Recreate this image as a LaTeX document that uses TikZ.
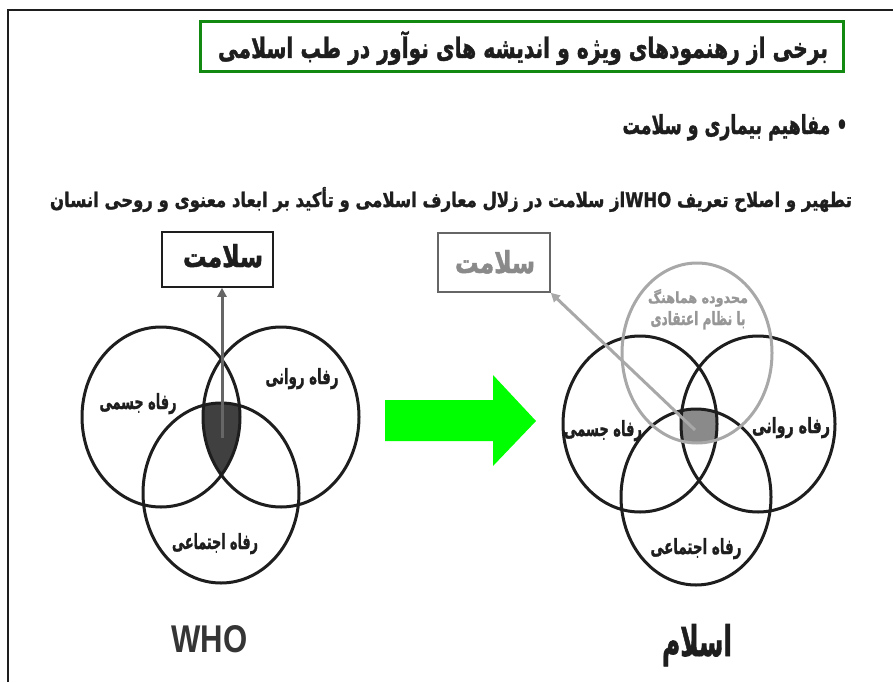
\documentclass[tikz,border=0pt]{standalone}
\usepackage{fontspec}
\setmainfont{Liberation Sans}
\newfontfamily\fa[Script=Arabic, FakeBold=1.6]{DejaVu Sans Bold}
\TeXXeTstate=1
\usetikzlibrary{arrows.meta}
\definecolor{ink}{HTML}{1E1E1E}
\definecolor{lgray}{HTML}{A8A8A8}
\definecolor{mgray}{HTML}{8A8A8A}
\definecolor{dgray}{HTML}{666666}
\definecolor{darkfill}{HTML}{404040}
\definecolor{tgreen}{HTML}{128A12}
\definecolor{bgreen}{HTML}{00FF00}
\newcommand\fittext[3]{\resizebox{#1}{#2}{\fa #3}}
\tikzset{
  frameline/.style={line width=2pt, draw=ink},
  titlebox/.style={draw=tgreen, line width=3pt, fill=white, inner sep=0pt},
  ring/.style={line width=3pt, draw=ink},
  grayring/.style={line width=3pt, draw=lgray},
  lbl/.style={inner sep=0pt, anchor=base, text=ink},
  glbl/.style={inner sep=0pt, anchor=base, text=mgray},
  hbox/.style={draw=ink, line width=1.6pt, inner sep=0pt},
  ghbox/.style={draw=dgray, line width=1.6pt, inner sep=0pt},
  upline/.style={line width=3pt, draw=dgray, -{Triangle[length=9pt,width=9pt]}},
  gline/.style={line width=3pt, draw=lgray, -{Triangle[length=9pt,width=9pt]}}
}
\begin{document}
\begin{tikzpicture}[x=1pt,y=-1pt]
\useasboundingbox (0,0) rectangle (893,682);
\fill[white] (0,0) rectangle (893,682);
\draw[frameline] (8,682) -- (8,10) -- (893,10);

% title
\node[titlebox, minimum width=643pt, minimum height=50pt] (title) at (521.5,47) {};
\node[lbl] (titletext) at (523,58) {\fittext{610pt}{27pt}{\beginR برخی از رهنمودهای ویژه و اندیشه های نوآور در طب اسلامی\endR}};

% bullet line
\node[lbl] (bullet) at (735,134) {\fittext{225pt}{20pt}{\beginR • مفاهیم بیماری و سلامت\endR}};

% statement
\node[lbl] (stmt) at (451,207) {\fittext{802pt}{20pt}{\beginR تطهیر و اصلاح تعریف \beginL WHO\endL{}از سلامت در زلال معارف اسلامی و تأکید بر ابعاد معنوی و روحی انسان\endR}};

% ---------- left diagram (WHO)
\begin{scope}
\clip (161,417) ellipse [x radius=79pt, y radius=90pt];
\clip (281,417) ellipse [x radius=78pt, y radius=90pt];
\fill[darkfill] (221,493) ellipse [x radius=78pt, y radius=90pt];
\end{scope}
\draw[ring] (161,417) ellipse [x radius=79pt, y radius=90pt];
\draw[ring] (281,417) ellipse [x radius=78pt, y radius=90pt];
\draw[ring] (221,493) ellipse [x radius=78pt, y radius=90pt];

\node[hbox, minimum width=111pt, minimum height=55pt] (lbox) at (217.5,259.5) {};
\node[lbl] (lboxtext) at (223,267) {\fittext{80pt}{23pt}{\beginR سلامت\endR}};
\coordinate (lstart) at (222,438);
\draw[upline] (lstart) -- (lstart |- lbox.south);

\node[lbl] (l1) at (138,409) {\fittext{77pt}{16pt}{\beginR رفاه جسمی\endR}};
\node[lbl] (l2) at (302,384) {\fittext{73pt}{16pt}{\beginR رفاه روانی\endR}};
\node[lbl] (l3) at (215,549) {\fittext{86pt}{16pt}{\beginR رفاه اجتماعی\endR}};

\node[inner sep=0pt, anchor=base, text=ink!90] (who) at (209.5,652) {\resizebox{76pt}{27pt}{\bfseries WHO}};

% ---------- green arrow
\fill[bgreen] (385,400) -- (493,400) -- (493,375) -- (536,421) -- (493,466) -- (493,441) -- (385,441) -- cycle;

% ---------- right diagram (Islam)
\begin{scope}
\clip (640,424) ellipse [x radius=77pt, y radius=88pt];
\clip (758,424) ellipse [x radius=77pt, y radius=88pt];
\clip (696,497) ellipse [x radius=75pt, y radius=88pt];
\fill[mgray] (697,353) ellipse [x radius=75pt, y radius=90pt];
\end{scope}
\draw[ring] (640,424) ellipse [x radius=77pt, y radius=88pt];
\draw[ring] (758,424) ellipse [x radius=77pt, y radius=88pt];
\draw[ring] (696,497) ellipse [x radius=75pt, y radius=88pt];
\draw[grayring] (697,353) ellipse [x radius=75pt, y radius=90pt];

\node[ghbox, minimum width=112pt, minimum height=59pt] (rbox) at (494,262.5) {};
\node[glbl] (rboxtext) at (495,273) {\fittext{80pt}{23pt}{\beginR سلامت\endR}};
\coordinate (rstart) at (695,430);
\draw[gline] (rstart) -- (rbox.south east);

\node[glbl, text=lgray!90!black] (g1) at (698,303) {\fittext{100pt}{14pt}{\beginR محدوده هماهنگ\endR}};
\node[glbl, text=lgray!90!black] (g2) at (698,325) {\fittext{95pt}{14pt}{\beginR با نظام اعتقادی\endR}};

\node[lbl] (r1) at (603,436) {\fittext{78pt}{16pt}{\beginR رفاه جسمی\endR}};
\node[lbl] (r2) at (791,433) {\fittext{78pt}{16pt}{\beginR رفاه روانی\endR}};
\node[lbl] (r3) at (696,554) {\fittext{91pt}{16pt}{\beginR رفاه اجتماعی\endR}};

\node[lbl] (islam) at (697,656) {\fittext{70pt}{32pt}{\beginR اسلام\endR}};
\end{tikzpicture}
\end{document}
